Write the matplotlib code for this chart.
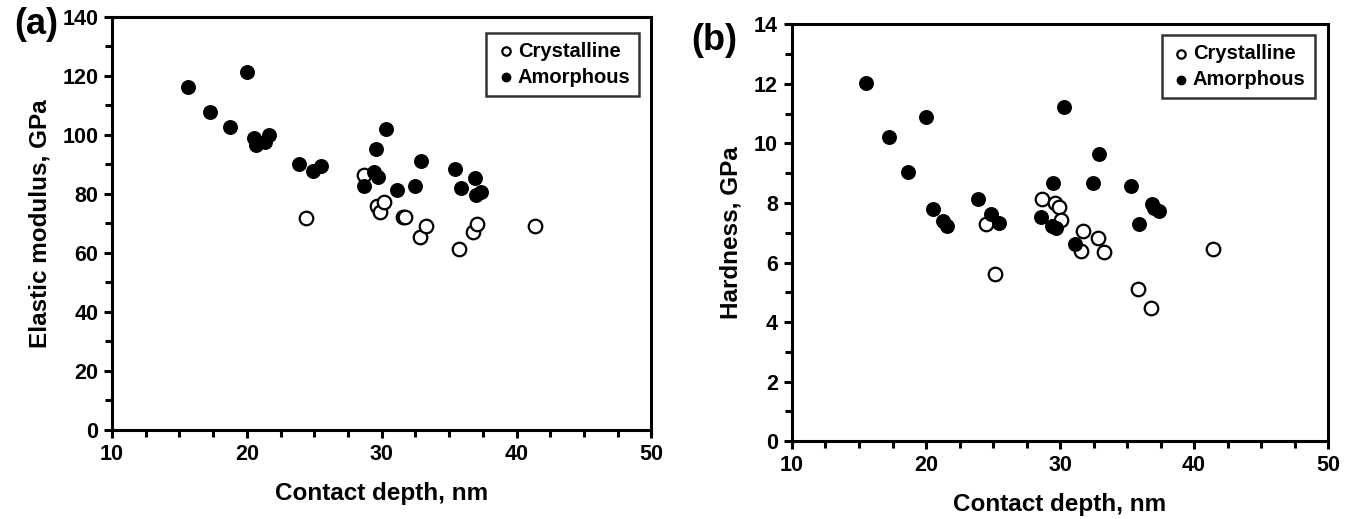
import matplotlib
matplotlib.use('Agg')
import matplotlib.pyplot as plt
from matplotlib.ticker import MultipleLocator

plt.rcParams['font.family'] = ['Liberation Sans', 'DejaVu Sans']
plt.rcParams['font.weight'] = 'bold'

# (a) elastic modulus
cry_depth_a = [24.4, 28.65, 29.65, 29.9, 30.15, 31.55, 31.75, 32.85, 33.3, 35.75, 36.75, 37.05, 41.4]
cry_mod_a = [71.8, 86.5, 75.9, 73.8, 77.1, 72.3, 72.2, 65.5, 69.2, 61.4, 67.0, 69.8, 69.1]
amo_depth_a = [15.6, 17.3, 18.75, 20.0, 20.55, 20.65, 21.35, 21.65, 23.9, 24.9, 25.5, 28.65,
               29.45, 29.6, 29.7, 30.35, 31.15, 32.5, 32.95, 35.4, 35.85, 36.9, 37.0, 37.35]
amo_mod_a = [116.3, 107.8, 102.8, 121.3, 98.8, 96.7, 97.6, 99.9, 90.0, 87.8, 89.4, 82.7,
             87.5, 95.2, 85.8, 102.1, 81.2, 82.7, 91.0, 88.4, 82.1, 85.3, 79.5, 80.7]

# (b) hardness
cry_depth_b = [24.45, 25.15, 28.65, 29.65, 29.9, 30.1, 31.7, 31.6, 32.85, 33.3, 35.8, 36.8, 41.4]
cry_hard_b = [7.28, 5.61, 8.15, 8.0, 7.87, 7.43, 7.07, 6.40, 6.82, 6.35, 5.10, 4.47, 6.45]
amo_depth_b = [15.5, 17.27, 18.65, 20.0, 20.5, 21.25, 21.6, 23.85, 24.88, 25.45, 28.6, 29.5,
               29.4, 29.67, 30.33, 31.1, 32.45, 32.92, 35.32, 35.9, 36.9, 37.03, 37.38]
amo_hard_b = [12.03, 10.22, 9.03, 10.9, 7.79, 7.39, 7.22, 8.15, 7.64, 7.34, 7.53, 8.66,
              7.23, 7.16, 11.22, 6.61, 8.66, 9.66, 8.57, 7.28, 7.95, 7.83, 7.74]

fig = plt.figure(figsize=(13.55, 5.19), dpi=100)
ax1 = fig.add_axes([0.0827, 0.1715, 0.398, 0.796])
ax2 = fig.add_axes([0.5845, 0.150, 0.3956, 0.803])


def style(ax, cry_x, cry_y, amo_x, amo_y, ymax, ymaj, ymin, ylabel, legend_anchor):
    ax.scatter(cry_x, cry_y, s=95, facecolors='white', edgecolors='black',
               linewidths=1.6, label='Crystalline', zorder=3)
    ax.scatter(amo_x, amo_y, s=95, facecolors='black', edgecolors='black',
               linewidths=1.0, label='Amorphous', zorder=3)
    ax.set_xlim(10, 50)
    ax.set_ylim(0, ymax)
    ax.xaxis.set_major_locator(MultipleLocator(10))
    ax.xaxis.set_minor_locator(MultipleLocator(2.5))
    ax.yaxis.set_major_locator(MultipleLocator(ymaj))
    ax.yaxis.set_minor_locator(MultipleLocator(ymin))
    for sp in ax.spines.values():
        sp.set_linewidth(2.2)
    ax.tick_params(which='major', direction='out', length=6, width=2.2,
                   labelsize=15.5, pad=4, top=False, right=False)
    ax.tick_params(which='minor', direction='out', length=5, width=2.2,
                   top=False, right=False)
    for lab in ax.get_xticklabels() + ax.get_yticklabels():
        lab.set_fontweight('bold')
    ax.set_xlabel('Contact depth, nm', fontsize=17.5, fontweight='bold', labelpad=12)
    ax.set_ylabel(ylabel, fontsize=17.5, fontweight='bold', labelpad=8)
    leg = ax.legend(loc='upper right', bbox_to_anchor=legend_anchor, fancybox=False,
                    frameon=True, edgecolor='black', fontsize=14.5, markerscale=0.62,
                    handletextpad=0.1, borderpad=0.45, labelspacing=0.35,
                    handlelength=1.0, borderaxespad=0)
    leg.get_frame().set_linewidth(1.8)
    for t in leg.get_texts():
        t.set_fontweight('bold')


style(ax1, cry_depth_a, cry_mod_a, amo_depth_a, amo_mod_a,
      140, 20, 10, 'Elastic modulus, GPa', (0.978, 0.962))
style(ax2, cry_depth_b, cry_hard_b, amo_depth_b, amo_hard_b,
      14, 2, 1, 'Hardness, GPa', (0.975, 0.974))

fig.text(0.027, 0.952, '(a)', fontsize=26, fontweight='bold', ha='center', va='center')
fig.text(0.527, 0.922, '(b)', fontsize=26, fontweight='bold', ha='center', va='center')

fig.savefig('out.png', dpi=100)
